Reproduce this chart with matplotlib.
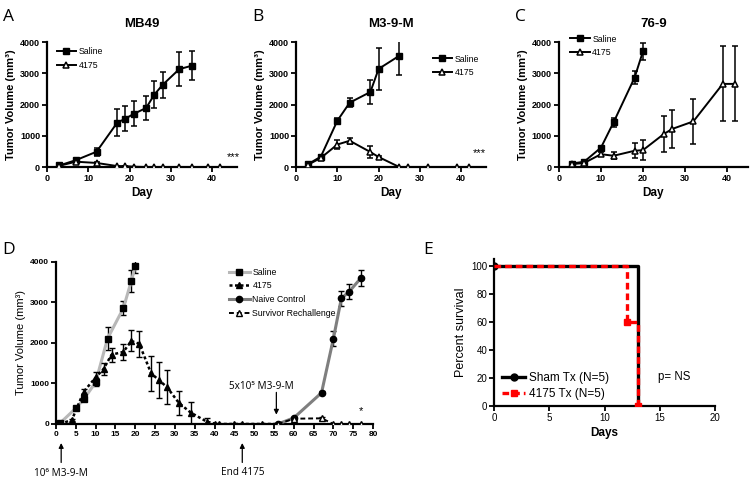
import matplotlib.pyplot as plt

plt.rcParams['font.family'] = ['Liberation Sans', 'DejaVu Sans']

# A: MB49
a_days_saline = [3, 7, 12, 17, 19, 21, 24, 26, 28, 32, 35]
a_saline = [50, 220, 490, 1420, 1550, 1700, 1890, 2320, 2630, 3130, 3240]
a_saline_err = [20, 40, 130, 440, 410, 400, 380, 420, 420, 540, 460]
a_days_4175 = [3, 7, 12, 17, 19, 21, 24, 26, 28, 32, 35, 39, 42]
a_4175 = [40, 170, 130, 30, 30, 10, 0, 0, 0, 0, 0, 0, 0]
a_4175_err = [10, 30, 30, 10, 10, 5, 0, 0, 0, 0, 0, 0, 0]

# B: M3-9-M
b_days_saline = [3, 6, 10, 13, 18, 20, 25]
b_saline = [100, 330, 1480, 2060, 2400, 3140, 3560]
b_saline_err = [30, 60, 90, 140, 370, 660, 610]
b_days_4175 = [3, 6, 10, 13, 18, 20, 25, 27, 32, 39, 42]
b_4175 = [80, 290, 720, 840, 480, 320, 0, 0, 0, 0, 0]
b_4175_err = [20, 50, 150, 100, 180, 40, 0, 0, 0, 0, 0]

# C: 76-9
c_days_saline = [3, 6, 10, 13, 18, 20]
c_saline = [110, 170, 620, 1430, 2860, 3700]
c_saline_err = [30, 30, 50, 140, 200, 260]
c_days_4175 = [3, 6, 10, 13, 18, 20, 25, 27, 32, 39, 42]
c_4175 = [90, 130, 410, 360, 520, 540, 1060, 1220, 1460, 2660, 2660]
c_4175_err = [20, 30, 60, 110, 240, 310, 570, 610, 720, 1200, 1200]

# D: M3-9-M rechallenge
d_days_saline = [1, 5, 7, 10, 13, 17, 19, 20]
d_saline = [20, 390, 610, 1030, 2110, 2860, 3530, 3890]
d_saline_err = [0, 40, 50, 100, 280, 170, 270, 160]
d_days_4175 = [1, 4, 7, 10, 12, 14, 17, 19, 21, 24, 26, 28, 31, 34, 38, 40, 41, 45, 47, 52, 56]
d_4175 = [0, 100, 800, 1150, 1360, 1710, 1780, 2050, 1980, 1250, 1080, 910, 520, 280, 60, 10, 0, 0, 0, 0, 0]
d_4175_err = [0, 20, 60, 130, 150, 170, 190, 260, 320, 440, 450, 420, 300, 270, 80, 10, 0, 0, 0, 0, 0]
d_days_naive = [56, 60, 67, 70, 72, 74, 77]
d_naive = [0, 150, 770, 2110, 3100, 3270, 3610]
d_naive_err = [0, 30, 40, 180, 190, 180, 200]
d_days_rechal = [56, 60, 67, 70, 72, 74, 77]
d_rechal = [0, 130, 140, 0, 0, 0, 0]
d_rechal_err = [0, 20, 30, 0, 0, 0, 0]

# E: survival
e_sham_days = [0, 13]
e_sham = [100, 0]
e_4175_days = [0, 12, 13]
e_4175 = [100, 60, 0]

fig = plt.figure(figsize=(7.5, 4.78), dpi=100)


def style_axes(ax, bold=True, size=6.5):
    for s in ['top', 'right']:
        ax.spines[s].set_visible(False)
    for s in ['left', 'bottom']:
        ax.spines[s].set_linewidth(1.6)
    ax.tick_params(direction='out', length=3.5, width=1.3, labelsize=size, pad=1.5)
    for lab in ax.get_xticklabels() + ax.get_yticklabels():
        lab.set_fontweight('bold' if bold else 'normal')


def tumor_panel(rect, letter, title, ds, vs, es, dt, vt, et, xmax, leg_xy, stars=None):
    ax = fig.add_axes(rect)
    e1 = ax.errorbar(ds, vs, yerr=es, color='black', lw=1.4, marker='s', ms=4.3,
                     capsize=2.5, elinewidth=1.1, capthick=1.1, zorder=3)
    e2 = ax.errorbar(dt, vt, yerr=et, color='black', lw=1.4, marker='^', ms=5,
                     mfc='white', mec='black', mew=1.1, capsize=2.5, elinewidth=1.1,
                     capthick=1.1, zorder=4)
    ax.set_xlim(0, xmax)
    ax.set_ylim(0, 4000)
    ax.set_xticks([0, 10, 20, 30, 40])
    ax.set_yticks([0, 1000, 2000, 3000, 4000])
    style_axes(ax)
    ax.set_title(title, fontsize=9.5, fontweight='bold', pad=11)
    ax.set_xlabel('Day', fontsize=8.5, fontweight='bold', labelpad=3)
    ax.set_ylabel('Tumor Volume (mm³)', fontsize=8, fontweight='bold', labelpad=3)
    ax.legend([e1[0], e2[0]], ['Saline', '4175'], loc='upper left', bbox_to_anchor=leg_xy,
              frameon=False, fontsize=6.3, handlelength=2.2, handletextpad=0.3,
              labelspacing=0.55, borderpad=0, borderaxespad=0)
    if stars:
        ax.text(stars[0], stars[1], '***', fontsize=8, ha='center', va='center',
                clip_on=False)
    fig.text(rect[0] - 0.059, 0.965, letter, fontsize=12.5, family=['Open Sans', 'DejaVu Sans'],
             va='center')
    return ax


tumor_panel([0.0627, 0.6506, 0.2533, 0.2615], 'A', 'MB49',
            a_days_saline, a_saline, a_saline_err, a_days_4175, a_4175, a_4175_err,
            46, (0.05, 0.96), stars=(45, 330))
tumor_panel([0.3947, 0.6506, 0.2533, 0.2615], 'B', 'M3-9-M',
            b_days_saline, b_saline, b_saline_err, b_days_4175, b_4175, b_4175_err,
            46, (0.72, 0.9), stars=(44.3, 450))
tumor_panel([0.7453, 0.6506, 0.252, 0.2615], 'C', '76-9',
            c_days_saline, c_saline, c_saline_err, c_days_4175, c_4175, c_4175_err,
            45, (0.06, 1.06))

# D
axd = fig.add_axes([0.0747, 0.113, 0.4227, 0.339])
d1 = axd.errorbar(d_days_saline, d_saline, yerr=d_saline_err, color='#b8b8b8', lw=2.2,
                  marker='s', ms=4.5, mfc='black', mec='black', ecolor='black',
                  capsize=2.5, elinewidth=1, capthick=1, zorder=3)
d2 = axd.errorbar(d_days_4175, d_4175, yerr=d_4175_err, color='black', lw=1.8,
                  ls=(0, (1.2, 1.0)), marker='^', ms=4.5, ecolor='black',
                  capsize=2.5, elinewidth=1, capthick=1, zorder=4)
d3 = axd.errorbar(d_days_naive, d_naive, yerr=d_naive_err, color='#7f7f7f', lw=2.2,
                  marker='o', ms=4.5, mfc='black', mec='black', ecolor='black',
                  capsize=2.5, elinewidth=1, capthick=1, zorder=3)
d4 = axd.errorbar(d_days_rechal, d_rechal, yerr=d_rechal_err, color='black', lw=1.4,
                  ls=(0, (2.5, 1.5)), marker='^', ms=4.5, mfc='white', mec='black', mew=1,
                  ecolor='black', capsize=2.5, elinewidth=1, capthick=1, zorder=5)
axd.set_xlim(0, 80)
axd.set_ylim(0, 4000)
axd.set_xticks(range(0, 81, 5))
axd.set_yticks([0, 1000, 2000, 3000, 4000])
style_axes(axd, size=6)
axd.set_ylabel('Tumor Volume (mm³)', fontsize=8, labelpad=3)
axd.legend([d1[0], d2[0], d3[0], d4[0]],
           ['Saline', '4175', 'Naive Control', 'Survivor Rechallenge'],
           loc='upper left', bbox_to_anchor=(0.545, 0.965), frameon=False, fontsize=6.3,
           handlelength=2.4, handletextpad=0.3, labelspacing=0.55,
           borderpad=0, borderaxespad=0)
note = dict(family=['Open Sans', 'DejaVu Sans'], fontsize=7.2, ha='center', va='center')
arrow = dict(arrowstyle='-|>', lw=0.9, color='black', mutation_scale=7, shrinkA=0, shrinkB=0)
axd.annotate('', xy=(55.6, 230), xytext=(55.6, 780), arrowprops=arrow, annotation_clip=False)
axd.text(51.8, 930, '5x10⁵ M3-9-M', **note)
axd.annotate('', xy=(1.3, -470), xytext=(1.3, -950), arrowprops=arrow, annotation_clip=False)
axd.text(1.3, -1220, '10⁶ M3-9-M', **note)
axd.annotate('', xy=(47, -470), xytext=(47, -950), arrowprops=arrow, annotation_clip=False)
axd.text(47, -1200, 'End 4175', **note)
axd.text(77, 330, '*', fontsize=8, ha='center', va='center')
fig.text(0.003, 0.478, 'D', fontsize=12.5, family=['Open Sans', 'DejaVu Sans'], va='center')

# E
axe = fig.add_axes([0.6587, 0.1506, 0.2947, 0.307])
axe.step(e_sham_days, e_sham, where='post', color='black', lw=2.4, zorder=3)
axe.step(e_4175_days, e_4175, where='post', color='red', lw=2.4, ls=(0, (2, 1.2)), zorder=4)
axe.plot(e_sham_days[:1], e_sham[:1], 'o', color='black', ms=5, zorder=3)
axe.plot(e_4175_days[1:], e_4175[1:], 's', color='red', ms=5, zorder=5)
axe.plot([], [], '-o', color='black', lw=2.4, ms=5, label='Sham Tx (N=5)')
axe.plot([], [], 's', color='red', lw=2.4, ls=(0, (2, 1.2)), ms=5, label='4175 Tx (N=5)')
axe.set_xlim(0, 20)
axe.set_ylim(0, 105)
axe.set_xticks([0, 5, 10, 15, 20])
axe.set_yticks([0, 20, 40, 60, 80, 100])
style_axes(axe, bold=False, size=7)
axe.set_xlabel('Days', fontsize=8.5, fontweight='bold', labelpad=3)
axe.set_ylabel('Percent survival', fontsize=9, labelpad=3)
axe.legend(loc='lower left', bbox_to_anchor=(0.035, 0.04), frameon=False, fontsize=8.5,
           handlelength=2.0, handletextpad=0.3, labelspacing=0.35,
           borderpad=0, borderaxespad=0)
axe.text(14.8, 21, 'p= NS', fontsize=8.3, va='center')
fig.text(0.564, 0.478, 'E', fontsize=12.5, family=['Open Sans', 'DejaVu Sans'], va='center')

fig.savefig('out.png', dpi=100)
